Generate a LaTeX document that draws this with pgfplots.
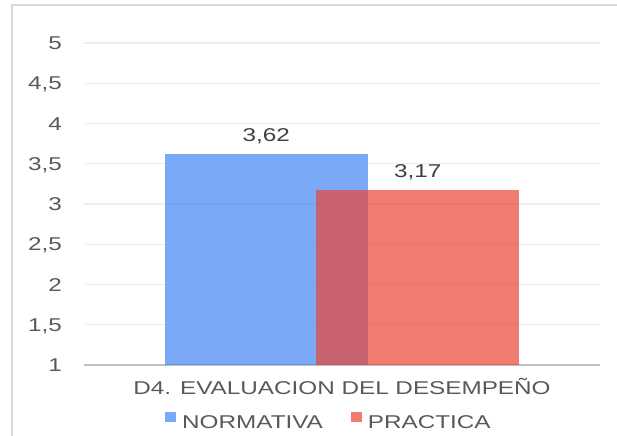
\documentclass[border=0pt]{standalone}
\usepackage{fontspec}
\setmainfont{Liberation Sans}[FakeStretch=1.31]
\usepackage{pgfplots}
\pgfplotsset{compat=1.18}

\definecolor{nblue}{HTML}{4285F4}
\definecolor{pred}{HTML}{EA4335}
\definecolor{lblgray}{HTML}{595959}
\definecolor{valgray}{HTML}{404040}
\definecolor{gridgray}{HTML}{EEEEEE}
\definecolor{axgray}{HTML}{BFBFBF}
\definecolor{framegray}{HTML}{D9D9D9}
\newcommand\chartfont{\fontsize{18.6pt}{22pt}\selectfont}

\begin{document}
\begin{tikzpicture}
\useasboundingbox (-84bp,-71bp) rectangle (533bp,365bp);
% chart frame (left and top edges only are visible)
\draw[framegray, line width=2bp] (-72bp,-90bp) -- (-72bp,360bp) -- (560bp,360bp);
\begin{axis}[
  scale only axis, width=516bp, height=322bp,
  ybar, bar width=203bp,
  xmin=-258, xmax=258, ymin=1, ymax=5,
  ytick={1,1.5,...,5},
  xtick={0}, xticklabels={D4. EVALUACION DEL DESEMPEÑO},
  axis x line*=bottom, axis y line*=left,
  x axis line style={axgray, line width=2.2bp, -},
  y axis line style={draw=none},
  major tick length=0pt,
  ymajorgrids, grid style={gridgray, line width=1.3bp},
  /pgf/number format/.cd, use comma, 1000 sep={}, assume math mode=true,
  /pgfplots/.cd,
  tick label style={font=\chartfont, color=lblgray},
  yticklabel style={anchor=east, inner sep=0pt, text depth=0pt, text height=13.2bp, xshift=-22bp},
  xticklabel style={anchor=base, inner sep=0pt, yshift=-29bp},
  nodes near coords,
  nodes near coords style={font=\chartfont, color=valgray, text opacity=1,
    anchor=south, inner sep=0pt, text depth=0pt, yshift=12.5bp,
    /pgf/number format/.cd, fixed, fixed zerofill, precision=2, use comma},
  legend columns=2,
  legend style={draw=none, fill=none, inner sep=0pt, font=\chartfont, text=lblgray,
    at={(0.157,-0.172)}, anchor=west,
    nodes={inner sep=0pt, text depth=0pt},
    /tikz/every odd column/.append style={column sep=6bp},
    /tikz/every even column/.append style={column sep=28bp}},
  legend image code/.code={\fill[#1] (0bp,0bp) rectangle (11bp,10bp);},
]
\addplot[fill=nblue, fill opacity=0.7, draw=none, bar shift=-75.75bp] coordinates {(0,3.62)};
\addplot[fill=pred, fill opacity=0.7, draw=none, bar shift=75.75bp] coordinates {(0,3.17)};
\legend{NORMATIVA, PRACTICA}
\end{axis}
\end{tikzpicture}
\end{document}
